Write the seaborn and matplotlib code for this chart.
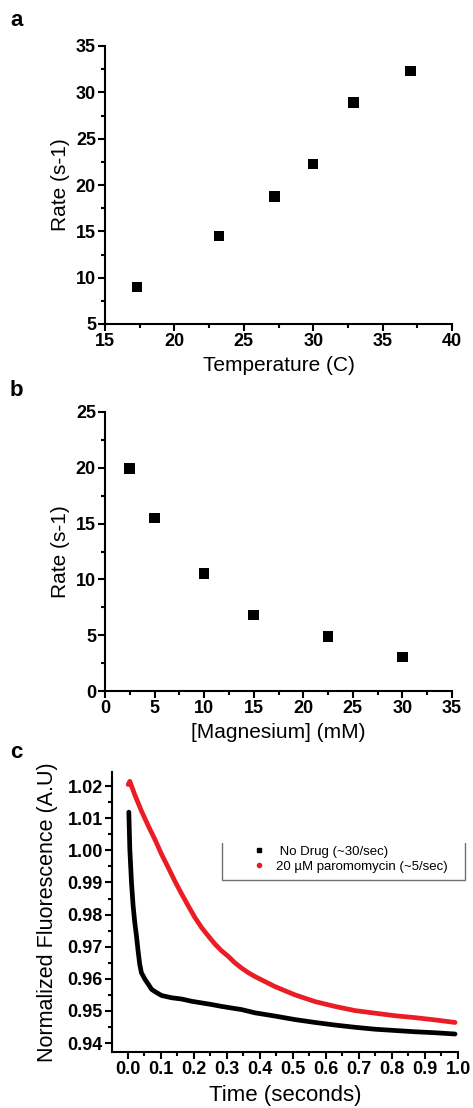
import numpy as np
import pandas as pd
import matplotlib
matplotlib.use("Agg")
import matplotlib.pyplot as plt
from matplotlib.lines import Line2D
from matplotlib.ticker import MultipleLocator, FormatStrFormatter
import seaborn as sns

# ---------------- data ----------------
temp_c = [17.3, 23.2, 27.2, 30.0, 32.9, 37.0]
temp_rate = [9.0, 14.5, 18.75, 22.25, 28.9, 32.3]

mg_mM = [2.5, 5.0, 10.0, 15.0, 22.5, 30.0]
mg_rate = [19.95, 15.5, 10.55, 6.8, 4.88, 3.05]

nodrug_t = [0.003, 0.006, 0.011, 0.016, 0.021, 0.026, 0.031, 0.036, 0.041, 0.052,
            0.062, 0.072, 0.087, 0.102, 0.132, 0.163, 0.193, 0.223, 0.253, 0.284,
            0.314, 0.345, 0.385, 0.445, 0.506, 0.567, 0.627, 0.688, 0.748, 0.809,
            0.870, 0.930, 0.991]
nodrug_f = [1.0119, 1.0003, 0.9900, 0.9827, 0.9775, 0.9734, 0.9687, 0.9645, 0.9619, 0.9598,
            0.9583, 0.9567, 0.9557, 0.9548, 0.9541, 0.9537, 0.9530, 0.9525, 0.9520, 0.9514,
            0.9509, 0.9504, 0.9494, 0.9484, 0.9473, 0.9464, 0.9456, 0.9449, 0.9443, 0.9439,
            0.9435, 0.9432, 0.9428]

paro_t = [0.001, 0.006, 0.021, 0.041, 0.062, 0.082, 0.102, 0.122, 0.142, 0.163,
          0.183, 0.203, 0.223, 0.243, 0.264, 0.284, 0.304, 0.324, 0.345, 0.365,
          0.385, 0.445, 0.506, 0.567, 0.627, 0.688, 0.748, 0.809, 0.870, 0.930,
          0.991]
paro_f = [1.0205, 1.0215, 1.0173, 1.0123, 1.0076, 1.0034, 0.9988, 0.9947, 0.9905, 0.9864,
          0.9827, 0.9791, 0.9760, 0.9734, 0.9708, 0.9687, 0.9670, 0.9650, 0.9633, 0.9619,
          0.9607, 0.9576, 0.9550, 0.9529, 0.9514, 0.9501, 0.9493, 0.9485, 0.9479, 0.9472,
          0.9464]

legend_labels = [" No Drug (~30/sec)", "20 \u00b5M paromomycin (~5/sec)"]

# ---------------- style ----------------
sns.set_style("ticks")
plt.rcParams["font.family"] = ["Liberation Sans", "DejaVu Sans"]
plt.rcParams["axes.linewidth"] = 1.5
for k in ["xtick.major.width", "ytick.major.width", "xtick.minor.width", "ytick.minor.width"]:
    plt.rcParams[k] = 1.5
plt.rcParams["xtick.color"] = "black"
plt.rcParams["ytick.color"] = "black"
plt.rcParams["axes.edgecolor"] = "black"
plt.rcParams["text.color"] = "black"
plt.rcParams["axes.labelcolor"] = "black"

W, H = 473, 1108
fig = plt.figure(figsize=(W / 100, H / 100), dpi=100)


def ax_px(left, right, top, bottom):
    return fig.add_axes([left / W, 1 - bottom / H, (right - left) / W, (bottom - top) / H])


def style_axis(ax, tick_fs):
    sns.despine(ax=ax)
    ax.tick_params(which="major", direction="out", length=5, pad=1.5, labelsize=tick_fs)
    ax.tick_params(which="minor", direction="out", length=3)
    for lab in ax.get_xticklabels() + ax.get_yticklabels():
        lab.set_fontweight("bold")


# ---------------- panel a ----------------
ax_a = ax_px(105, 452, 46, 324)
df_a = pd.DataFrame({"Temperature": temp_c, "Rate": temp_rate})
sns.scatterplot(data=df_a, x="Temperature", y="Rate", ax=ax_a, marker="s",
                s=58, color="black", edgecolor="none", linewidth=0, zorder=3)
ax_a.set_xlim(15, 40)
ax_a.set_ylim(5, 35)
ax_a.xaxis.set_major_locator(MultipleLocator(5))
ax_a.xaxis.set_minor_locator(MultipleLocator(2.5))
ax_a.yaxis.set_major_locator(MultipleLocator(5))
ax_a.yaxis.set_minor_locator(MultipleLocator(2.5))
ax_a.set_xlabel("Temperature (C)", fontsize=15, labelpad=4)
ax_a.set_ylabel("Rate (s-1)", fontsize=15, labelpad=4)
style_axis(ax_a, 13)

# ---------------- panel b ----------------
ax_b = ax_px(105, 452, 412, 691)
df_b = pd.DataFrame({"Magnesium": mg_mM, "Rate": mg_rate})
sns.scatterplot(data=df_b, x="Magnesium", y="Rate", ax=ax_b, marker="s",
                s=58, color="black", edgecolor="none", linewidth=0, zorder=3)
ax_b.set_xlim(0, 35)
ax_b.set_ylim(0, 25)
ax_b.xaxis.set_major_locator(MultipleLocator(5))
ax_b.xaxis.set_minor_locator(MultipleLocator(2.5))
ax_b.yaxis.set_major_locator(MultipleLocator(5))
ax_b.yaxis.set_minor_locator(MultipleLocator(2.5))
ax_b.set_xlabel("[Magnesium] (mM)", fontsize=15, labelpad=4)
ax_b.set_ylabel("Rate (s-1)", fontsize=15, labelpad=4)
style_axis(ax_b, 13)

# ---------------- panel c ----------------
ax_c = ax_px(112, 458, 772, 1052)
df_c1 = pd.DataFrame({"t": nodrug_t, "f": nodrug_f})
df_c2 = pd.DataFrame({"t": paro_t, "f": paro_f})
sns.lineplot(data=df_c1, x="t", y="f", ax=ax_c, color="black", linewidth=3.4)
sns.lineplot(data=df_c2, x="t", y="f", ax=ax_c, color="#ec1c24", linewidth=3.4)
ax_c.set_xlim(-0.048, 1.0)
ax_c.set_ylim(0.9372, 1.0244)
ax_c.xaxis.set_major_locator(MultipleLocator(0.1))
ax_c.xaxis.set_minor_locator(MultipleLocator(0.05))
ax_c.yaxis.set_major_locator(MultipleLocator(0.01))
ax_c.yaxis.set_minor_locator(MultipleLocator(0.005))
ax_c.xaxis.set_major_formatter(FormatStrFormatter("%.1f"))
ax_c.yaxis.set_major_formatter(FormatStrFormatter("%.2f"))
ax_c.set_xlabel("Time (seconds)", fontsize=16, labelpad=5)
ax_c.set_ylabel("Normalized Fluorescence (A.U)", fontsize=15.5, labelpad=7)
style_axis(ax_c, 13)

handles = [Line2D([], [], linestyle="none", marker="s", markersize=3, color="black"),
           Line2D([], [], linestyle="none", marker="o", markersize=3, color="#ec1c24")]
leg = ax_c.legend(handles, legend_labels, loc="upper left",
                  bbox_to_anchor=((248 - 112) / 346, (1052 - 840) / 280),
                  frameon=False, fontsize=9.5, handlelength=0.8, handletextpad=0.9,
                  labelspacing=0.25, borderaxespad=0)
# legend box (left, bottom and right sides)
x0, x1 = (222 - 112) / 346, (465 - 112) / 346
y0, y1 = (1052 - 843) / 280, (1052 - 880) / 280
ax_c.plot([x0, x0, x1, x1], [y0, y1, y1, y0], transform=ax_c.transAxes,
          color="#707070", linewidth=1.0, clip_on=False)

# ---------------- panel letters ----------------
fig.text(10 / W, 1 - 20 / H, "a", fontsize=16, fontweight="bold", va="center", ha="left")
fig.text(10 / W, 1 - 390 / H, "b", fontsize=16, fontweight="bold", va="center", ha="left")
fig.text(10 / W, 1 - 752 / H, "c", fontsize=16, fontweight="bold", va="center", ha="left")

fig.savefig("out.png", dpi=100, facecolor="white")
